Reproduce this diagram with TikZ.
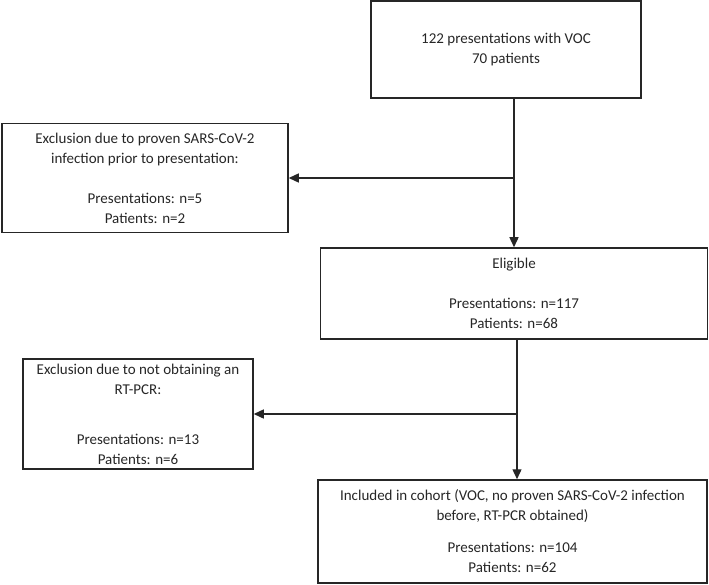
\documentclass[tikz,border=0pt]{standalone}
\usepackage{fontspec}
\setmainfont{Carlito}
\usetikzlibrary{arrows.meta}
\tikzset{
  flowbox/.style={draw=black!85,line width=1.5pt,align=center,inner sep=0pt,
    font=\fontsize{15}{20}\selectfont,text=black!85},
  flowarrow/.style={draw=black!85,line width=1.4pt,-{Triangle[length=10pt,width=9pt]}}
}
\begin{document}
\begin{tikzpicture}[x=1pt,y=-1pt]
        \useasboundingbox (0,0) rectangle (709,585);
        % boxes
        \node[flowbox,minimum width=270,minimum height=97] (start) at (506,49.5)
            {122 presentations with VOC\\70 patients};
        \node[flowbox,minimum width=286,minimum height=109] (exclA) at (145,178)
            {Exclusion due to proven SARS-CoV-2\\infection prior to presentation:\\[20pt]
             Presentations: n=5\\Patients: n=2};
        \node[flowbox,minimum width=387,minimum height=91] (eligible) at (514,293.5)
            {Eligible\\[20pt]Presentations: n=117\\Patients: n=68};
        \node[flowbox,minimum width=230,minimum height=110] (exclB) at (138,414)
            {Exclusion due to not obtaining an\\RT-PCR:\\[30pt]
             Presentations: n=13\\Patients: n=6};
        \node[flowbox,minimum width=389,minimum height=103] (cohort) at (512.5,531.5)
            {Included in cohort (VOC, no proven SARS-CoV-2 infection\\before, RT-PCR obtained)\\[12pt]
             Presentations: n=104\\Patients: n=62};
        % connectors
        \coordinate (splitA) at (eligible.north |- exclA.east);
        \coordinate (splitB) at ([xshift=3pt]eligible.south |- exclB.east);
        \draw[flowarrow] (start.south -| eligible.north) -- (eligible.north);
        \draw[flowarrow] (splitA) -- (exclA.east);
        \draw[flowarrow] ([xshift=3pt]eligible.south) -- ([xshift=3pt]eligible.south |- cohort.north);
        \draw[flowarrow] (splitB) -- (exclB.east);
    \end{tikzpicture}
\end{document}
